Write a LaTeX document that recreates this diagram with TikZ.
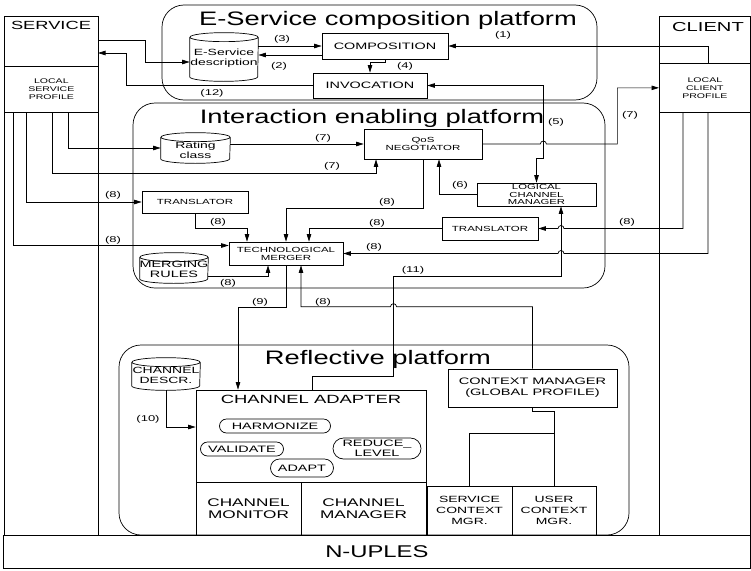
\documentclass[tikz,border=0pt]{standalone}
\usepackage{fontspec}
\setmainfont{Liberation Sans}[FakeStretch=1.55]
\newfontfamily\titlefont{Liberation Sans}[FakeStretch=1.4]
\usetikzlibrary{arrows.meta, shapes.misc}
\newcommand\fsz[2]{\fontsize{#1}{#2}\selectfont}
% drum: name, centre, width, height
\newcommand\drum[4]{%
  \node[minimum width=#3, minimum height=#4, inner sep=0pt] (#1) at (#2) {};
  \draw ([yshift=-4.5pt]#1.north west) -- ([yshift=4.5pt]#1.south west)
    arc[start angle=180, end angle=0, x radius=#3/2, y radius=4.5]
    -- ([yshift=-4.5pt]#1.north east)
    ([yshift=-4.5pt]#1.north) ellipse[x radius=#3/2, y radius=4.5];
}

\begin{document}
\begin{tikzpicture}[x=1pt, y=-1pt, line width=0.7pt,
  box/.style={draw, inner sep=0pt, align=center},
  drumtext/.style={align=center, inner sep=0pt, font=\fsz{9}{10}},
  pill/.style={rounded rectangle, draw, inner sep=0pt, align=center, font=\fsz{9.3}{10}},
  platform/.style={draw, rounded corners=22},
  ptitle/.style={anchor=base, inner sep=0pt, font=\titlefont\fsz{19.5}{21}},
  arr/.style={-{Triangle[length=7.5pt,width=4.5pt]}},
  dbl/.style={{Triangle[length=7.5pt,width=4.5pt]}-{Triangle[length=7.5pt,width=4.5pt]}},
  tag/.style={inner sep=0pt, font=\fsz{8.4}{9}}]
  \useasboundingbox (0,0) rectangle (751,570);

  % Platforms
  \draw[platform] (162,5) rectangle (597,100);
  \draw[platform] (133,103) rectangle (605,288);
  \draw[platform] (119,345) rectangle (629,535);
  \node[ptitle] (esptitle) at (388,25) {E-Service composition platform};
  \node[ptitle] (ieptitle) at (372,123) {Interaction enabling platform};
  \node[ptitle] (rfptitle) at (378,364) {Reflective platform};

  % Service and client columns
  \node[box, minimum width=94, minimum height=519, anchor=north west] (service) at (4,16) {};
  \node[font=\fsz{11.8}{13}] (servicename) at (51,25) {SERVICE};
  \node[box, minimum width=94, minimum height=46, anchor=north west, font=\fsz{6.8}{8}] (svcprof) at (4,66) {LOCAL\\SERVICE\\PROFILE};
  \node[box, minimum width=91, minimum height=519, anchor=north west] (client) at (659,16) {};
  \node[font=\fsz{13}{14}] (clientname) at (708,27) {CLIENT};
  \node[box, minimum width=91, minimum height=49, anchor=north west, font=\fsz{6.8}{8}] (clprof) at (659,63) {LOCAL\\CLIENT\\PROFILE};
  \node[box, minimum width=747, minimum height=33, anchor=north west, font=\titlefont\fsz{17}{18}] (nuples) at (3,535) {N-UPLES};

  \coordinate (s1) at (13,112);
  \coordinate (s2) at (26,112);
  \coordinate (s3) at (52,112);
  \coordinate (s4) at (68,112);
  \coordinate (sv0) at (98,40);
  \coordinate (sv12) at (98,53);
  \coordinate (k0) at (708,63);
  \coordinate (k1) at (683,112);
  \coordinate (k2) at (708,112);

  % Composition platform
  \drum{esdesc}{224,57}{68}{48}
  \node[drumtext] (esdesctext) at (224,58) {E-Service\\description};
  \node[box, minimum width=126, minimum height=26, font=\fsz{9.3}{11}] (comp) at (385,46) {COMPOSITION};
  \node[box, minimum width=114, minimum height=25, font=\fsz{9.3}{11}] (invoc) at (370,85.5) {INVOCATION};

  % Interaction platform
  \drum{rating}{195.5,148}{69}{30}
  \node[drumtext] (ratingtext) at (195.5,150) {Rating\\class};
  \node[box, minimum width=118, minimum height=30, font=\fsz{7.4}{8}] (qos) at (423,144) {QoS\\NEGOTIATOR};
  \node[box, minimum width=119, minimum height=23, font=\fsz{7.3}{7.6}] (lcm) at (536.5,194.5) {LOGICAL\\CHANNEL\\MANAGER};
  \node[box, minimum width=106, minimum height=22, font=\fsz{7.4}{8}] (transl) at (195,202) {TRANSLATOR};
  \node[box, minimum width=96, minimum height=23, font=\fsz{7.4}{8}] (transr) at (490,228.5) {TRANSLATOR};
  \node[box, minimum width=114, minimum height=23, font=\fsz{7.4}{8}] (merger) at (286,253.5) {TECHNOLOGICAL\\MERGER};
  \drum{rules}{174,268}{68}{30}
  \node[drumtext, font=\fsz{9.3}{10}] (rulestext) at (174,269) {MERGING\\RULES};

  % Reflective platform
  \drum{chdescr}{166,374}{68}{32}
  \node[drumtext] (chdescrtext) at (166,375) {CHANNEL\\DESCR.};
  \node[box, minimum width=230, minimum height=92] (adapter) at (311,436) {};
  \node[font=\fsz{11.9}{13}] (adaptername) at (311,399) {CHANNEL ADAPTER};
  \node[pill, minimum width=111, minimum height=14] (harm) at (275,426) {HARMONIZE};
  \node[pill, minimum width=83, minimum height=14] (valid) at (242,449) {VALIDATE};
  \node[pill, minimum width=63, minimum height=18] (adapt) at (302,468) {ADAPT};
  \node[pill, minimum width=88, minimum height=21] (reduce) at (377,448.5) {REDUCE\_\\LEVEL};
  \node[box, minimum width=105, minimum height=53, font=\fsz{11.1}{11.5}] (monitor) at (248.5,508.5) {CHANNEL\\MONITOR};
  \node[box, minimum width=125, minimum height=53, font=\fsz{11.1}{11.5}] (chman) at (363.5,508.5) {CHANNEL\\MANAGER};
  \node[box, minimum width=169, minimum height=38, font=\fsz{9.4}{11}] (ctxman) at (532.5,388) {CONTEXT MANAGER\\(GLOBAL PROFILE)};
  \node[box, minimum width=85, minimum height=49, font=\fsz{9}{11}] (svcctx) at (469.5,510.5) {SERVICE\\CONTEXT\\MGR.};
  \node[box, minimum width=84, minimum height=49, font=\fsz{9}{11}] (userctx) at (554,510.5) {USER\\CONTEXT\\MGR.};

  % Composition connectors
  \draw[arr] (sv0) -- ++(47,0) |- ([yshift=-5pt]esdesc.west);
  \draw[arr] ([yshift=11pt]esdesc.east) -- (comp.west);
  \draw[arr] ([yshift=-9pt]comp.west) -- ([yshift=2pt]esdesc.east);
  \draw[arr] (k0) |- (comp.east);
  \draw[arr] (comp.south) -- ++(0,3) -| (invoc.north);
  \draw[arr] (invoc.west) -- ++(-186,0) |- (sv12);
  \draw[dbl] (invoc.east) -- ++(116,0) -- ++(0,72.5) -| (lcm.north);

  % Interaction connectors
  \draw[arr] (s4) |- (rating.west);
  \draw[arr] (rating.east |- qos.west) -- (qos.west);
  \draw[arr] (s3) -- ++(0,61) -| ([xshift=-47pt]qos.south);
  \draw[arr] (qos.east) -- ++(58,0) arc[start angle=180, end angle=360, radius=3] -- ++(71,0) |- (clprof.west);
  \draw[arr] (lcm.west) -| ([xshift=16pt]qos.south);
  \draw[arr] (s2) |- (transl.west);
  \draw[arr] (s1) |- ([yshift=8pt]merger.west);
  \draw[arr] (transl.south) -- ++(0,15) -| ([xshift=-39pt]merger.north);
  \draw[arr] (qos.south) -- ++(0,49) -| (merger.north);
  \draw[arr] (transr.west) -| ([xshift=23pt]merger.north);
  \draw[arr] (k1) -- ++(0,116.5) -- ++(-119,0) arc[start angle=360, end angle=180, radius=3] -- (transr.east);
  \draw[arr] (k2) -- ++(0,141.5) -- ++(-144,0) arc[start angle=360, end angle=180, radius=3] -- (merger.east);
  \draw[arr] ([yshift=-8pt]rules.east) -| ([xshift=-18pt]merger.south);

  % Reflective connectors
  \draw[arr] (merger.south) -- ++(0,42) -| ([xshift=-73pt]adapter.north);
  \draw[arr] (ctxman.north) -- ++(0,-62) -- ++(-136,0) arc[start angle=360, end angle=180, radius=3] -| ([xshift=15pt]merger.south);
  \draw[arr] (chdescr.south) |- ([yshift=9pt]adapter.west);
  \draw[arr] ([xshift=1pt]adapter.north) -- ++(0,-13) -| ++(81,-100) -| ([xshift=24.5pt]lcm.south);
  \draw (ctxman.south) -- ++(0,4) -| (userctx.north);
  \draw ([yshift=52pt]userctx.north) -| (svcctx.north);

  % Step numbers
  \node[tag] (t1) at (503,35) {(1)};
  \node[tag] (t2) at (279,66) {(2)};
  \node[tag] (t3) at (282,39) {(3)};
  \node[tag] (t4) at (405,66) {(4)};
  \node[tag] (t5) at (556,122) {(5)};
  \node[tag] (t6) at (460,185) {(6)};
  \node[tag] (t7a) at (323,138) {(7)};
  \node[tag] (t7b) at (332,166) {(7)};
  \node[tag] (t7c) at (630,115) {(7)};
  \node[tag] (t8a) at (113,195) {(8)};
  \node[tag] (t8b) at (113,240) {(8)};
  \node[tag] (t8c) at (218,222) {(8)};
  \node[tag] (t8d) at (387,202) {(8)};
  \node[tag] (t8e) at (377,223) {(8)};
  \node[tag] (t8f) at (627,222) {(8)};
  \node[tag] (t8g) at (374,247) {(8)};
  \node[tag] (t8h) at (228,283) {(8)};
  \node[tag] (t8i) at (323,302) {(8)};
  \node[tag] (t9) at (260,302) {(9)};
  \node[tag] (t10) at (148,419) {(10)};
  \node[tag] (t11) at (413,270) {(11)};
  \node[tag] (t12) at (212,93) {(12)};
\end{tikzpicture}
\end{document}
